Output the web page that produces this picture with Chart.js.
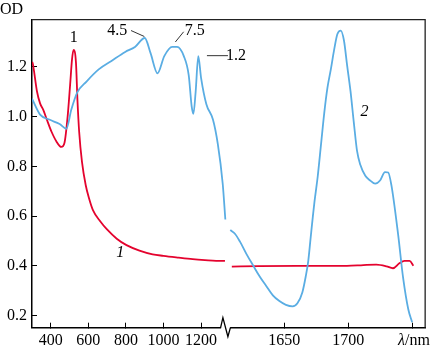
<!DOCTYPE html>
<html><head><meta charset="utf-8">
<script src="https://cdn.jsdelivr.net/npm/chart.js@4"></script>
<style>html,body{margin:0;padding:0;background:#fff}#wrap{width:436px;height:350px}</style>
</head><body><div id="wrap"><canvas id="c" width="436" height="350"></canvas></div>
<script>
// ---- data ----
const redLeftNm = [301,305,326,343,360,378,404,430,456,473,490,503,513,521,534,542,551,566,586,603,625,664,698,751,803,872,942,999,1080,1155,1220,1280,1327];
const redLeftOD = [1.22,1.21,1.103,1.053,1.027,0.99,0.939,0.90,0.878,0.895,1.003,1.129,1.23,1.268,1.217,1.065,0.939,0.818,0.724,0.673,0.623,0.578,0.547,0.509,0.483,0.461,0.446,0.44,0.433,0.427,0.423,0.42,0.42];
const redRightNm = [1609,1630,1660,1699,1710,1722,1730,1735,1740,1744,1748,1751];
const redRightOD = [0.397,0.399,0.40,0.40,0.402,0.405,0.398,0.39,0.41,0.42,0.42,0.40];
const blueLeftNm = [300,343,395,447,483,509,541,590,655,723,796,848,900,931,968,1004,1046,1072,1108,1134,1150,1159,1171,1185,1200,1228,1263,1289,1315,1329];
const blueLeftOD = [1.072,1.008,0.987,0.97,0.951,1.027,1.097,1.141,1.19,1.224,1.26,1.28,1.316,1.255,1.174,1.243,1.28,1.28,1.243,1.167,1.04,1.011,1.10,1.243,1.155,1.05,0.988,0.889,0.73,0.586];
const blueRightNm = [1607.8,1611.6,1615.5,1620.6,1625.8,1630.8,1635.9,1641.1,1646.2,1651.3,1656.5,1660.3,1664.2,1666.8,1668.8,1670.6,1672.4,1673.7,1676.2,1678.8,1681.3,1683.8,1686.5,1689,1691.5,1694.2,1696.7,1699.2,1701.8,1704.4,1706.9,1709.5,1713.4,1717.2,1721.1,1724.9,1728.8,1731.3,1733.8,1739,1743,1747,1750];
const blueRightOD = [0.544,0.528,0.496,0.446,0.40,0.357,0.319,0.281,0.258,0.243,0.237,0.249,0.294,0.357,0.42,0.51,0.60,0.66,0.76,0.89,1.015,1.116,1.192,1.268,1.331,1.346,1.306,1.205,1.103,0.977,0.863,0.806,0.762,0.743,0.73,0.743,0.777,0.775,0.724,0.528,0.35,0.225,0.173];
const yTicks = [0.2,0.4,0.6,0.8,1.0,1.2];
const xLeftTicks = [400,600,800,1000,1200];
const xRightTicks = [1650,1700,1750];
const xRightLabels = ['1650','1700',''];

const RED = '#e4032e', BLUE = '#5aade3';
const FONT = {family:'"Liberation Serif", "Times New Roman", serif', size:16};

function pts(xs, ys){ return xs.map((x,i)=>({x:x, y:ys[i]})); }
function lineDs(xs, ys, color, axis){
  return {data:pts(xs,ys), xAxisID:axis, yAxisID:'y', borderColor:color, borderWidth:1.8,
    pointRadius:0, fill:false, cubicInterpolationMode:'monotone', tension:0.4};
}

// annotations in data units
const texts = [
  {t:'1', ax:'xL', x:522, y:1.315, align:'center'},
  {t:'4.5', ax:'xL', x:754, y:1.345, align:'center'},
  {t:'7.5', ax:'xL', x:1166, y:1.345, align:'center'},
  {t:'1.2', ax:'xL', x:1333, y:1.246, align:'left'},
  {t:'2', ax:'xR', x:1712.8, y:1.019, align:'center', italic:true},
  {t:'1', ax:'xL', x:770, y:0.453, align:'center', italic:true}
];
const leaders = [
  {ax:'xL', x1:827, y1:1.346, x2:898, y2:1.322},
  {ax:'xL', x1:1063, y1:1.30, x2:1107, y2:1.341},
  {ax:'xL', x1:1231, y1:1.245, x2:1343, y2:1.245}
];

const decor = {
  id:'decor',
  afterDraw(chart){
    const ctx = chart.ctx, a = chart.chartArea, s = chart.scales;
    ctx.save();
    ctx.strokeStyle = '#222'; ctx.lineWidth = 1.3;
    ctx.beginPath(); ctx.moveTo(a.left, a.top); ctx.lineTo(a.right, a.top); ctx.lineTo(a.right, a.bottom); ctx.stroke();
    const b = s.xR.left, Y = s.xR.top;
    ctx.fillStyle = '#fff'; ctx.fillRect(b-6.5, Y-2.5, 9, 5);
    ctx.strokeStyle = '#000'; ctx.lineWidth = 1.3;
    ctx.beginPath(); ctx.moveTo(b-7, Y); ctx.lineTo(b-4.7, Y-10); ctx.lineTo(b+0.3, Y+9); ctx.lineTo(b+2.8, Y); ctx.stroke();
    ctx.lineWidth = 1; ctx.strokeStyle = '#333';
    leaders.forEach(l=>{
      const sc = s[l.ax];
      ctx.beginPath();
      ctx.moveTo(sc.getPixelForValue(l.x1), s.y.getPixelForValue(l.y1));
      ctx.lineTo(sc.getPixelForValue(l.x2), s.y.getPixelForValue(l.y2));
      ctx.stroke();
    });
    ctx.fillStyle = '#000'; ctx.textBaseline = 'middle';
    texts.forEach(o=>{
      ctx.font = (o.italic?'italic ':'') + '16px ' + FONT.family;
      ctx.textAlign = o.align;
      ctx.fillText(o.t, s[o.ax].getPixelForValue(o.x), s.y.getPixelForValue(o.y));
    });
    ctx.font = '16px ' + FONT.family; ctx.textAlign = 'left';
    ctx.fillText('OD', 0, 10);
    ctx.font = 'italic 16px ' + FONT.family;
    const lx = 398, ly = 341;
    ctx.fillText('λ', lx, ly);
    const w = ctx.measureText('λ').width;
    ctx.font = '16px ' + FONT.family;
    ctx.fillText('/nm', lx + w, ly);
    ctx.restore();
  }
};

function xScale(min, max, ticks, labels, weight){
  return {type:'linear', position:'bottom', stack:'xs', stackWeight:weight, min:min, max:max,
    afterBuildTicks(sc){ sc.ticks = ticks.map(v=>({value:v})); },
    afterFit(sc){ sc.height = 22.3; },
    grid:{drawOnChartArea:false, drawTicks:true, tickLength:-5, color:'#000', lineWidth:1},
    border:{display:true, color:'#000', width:1.5},
    ticks:{color:'#000', font:FONT, padding:8, maxRotation:0, autoSkip:false,
      callback:(v, i)=> labels ? labels[i] : String(v)}
  };
}

new Chart(document.getElementById('c'), {
  type:'line',
  data:{datasets:[
    lineDs(blueLeftNm, blueLeftOD, BLUE, 'xL'),
    lineDs(blueRightNm, blueRightOD, BLUE, 'xR'),
    lineDs(redLeftNm, redLeftOD, RED, 'xL'),
    lineDs(redRightNm, redRightOD, RED, 'xR')
  ]},
  options:{
    responsive:false, animation:false,
    layout:{padding:{top:1, right:2, left:0, bottom:0}},
    plugins:{legend:{display:false}, tooltip:{enabled:false}},
    scales:{
      xL: xScale(300, 1341, xLeftTicks, null, 200),
      xR: xScale(1605.7, 1760.2, xRightTicks, xRightLabels, 202),
      y:{type:'linear', position:'left', min:0.151, max:1.39,
        afterBuildTicks(sc){ sc.ticks = yTicks.map(v=>({value:v})); },
        afterFit(sc){ sc.width = 32; },
        grid:{drawOnChartArea:false, drawTicks:true, tickLength:-5, color:'#000', lineWidth:1},
        border:{display:true, color:'#000', width:1.5},
        ticks:{color:'#000', font:FONT, padding:10, callback:v=>v.toFixed(1)}
      }
    }
  },
  plugins:[decor]
});
</script>
</body></html>
